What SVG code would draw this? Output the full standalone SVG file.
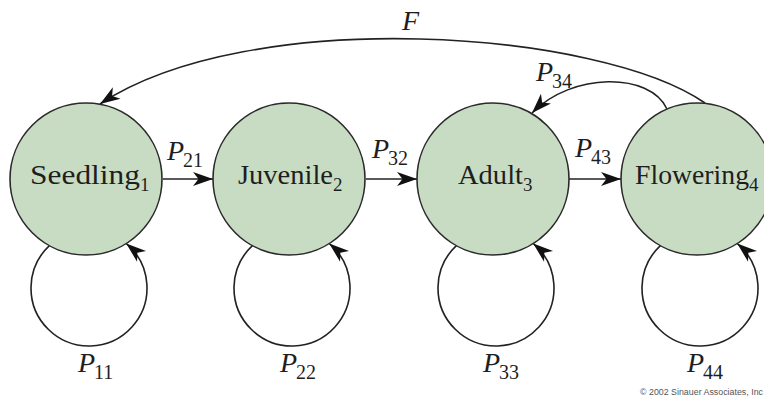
<svg xmlns="http://www.w3.org/2000/svg" width="764" height="400" viewBox="0 0 764 400">
  <style>
    .node { fill: #c8dcc4; stroke: #2a2a2a; stroke-width: 1.6; }
    .name { font-family: "Liberation Serif", "DejaVu Serif", serif; font-size: 28px; fill: #1e1e1e; }
    .sub { font-size: 19px; }
    .lab { font-family: "Liberation Serif", "DejaVu Serif", serif; font-size: 28px; font-style: italic; fill: #1e1e1e; }
    .labsub { font-style: normal; font-size: 20px; }
    .edge { fill: none; stroke: #222; stroke-width: 1.6; marker-end: url(#arrow); }
    .copy { font-family: "Liberation Sans", Arial, sans-serif; font-size: 8.5px; fill: #555; }
  </style>
  <defs>
    <marker id="arrow" viewBox="-22 -9 24 18" refX="0" refY="0" markerWidth="24" markerHeight="18" markerUnits="userSpaceOnUse" orient="auto">
      <path d="M0,0 L-20,-7 L-14.5,0 L-20,7 Z" fill="#111"/>
    </marker>
  </defs>

  <g id="connectors">
    <path class="edge" d="M163,179 L213,179"/>
    <path class="edge" d="M366,179 L417,179"/>
    <path class="edge" d="M569,179 L621,179"/>
    <path class="edge" d="M705,103 C600,30 250,5 100,104"/>
    <path class="edge" d="M667,109 C650,72 572,72 532,113"/>
    <path class="edge" d="M49.4,245.6 A58,58 0 1 0 126.2,243.5"/>
    <path class="edge" d="M252.4,245.6 A58,58 0 1 0 329.2,243.5"/>
    <path class="edge" d="M456.4,245.6 A58,58 0 1 0 533.2,243.5"/>
    <path class="edge" d="M660.4,245.6 A58,58 0 1 0 737.2,243.5"/>
    <g id="edge-labels">
      <text class="lab" x="167" y="160">P<tspan class="labsub" dx="-1" dy="7">21</tspan></text>
      <text class="lab" x="372" y="158">P<tspan class="labsub" dx="-1" dy="7">32</tspan></text>
      <text class="lab" x="575" y="157">P<tspan class="labsub" dx="-1" dy="7">43</tspan></text>
      <text class="lab" x="536" y="81">P<tspan class="labsub" dx="-1" dy="7">34</tspan></text>
      <text class="lab" x="402" y="30">F</text>
      <text class="lab" x="78" y="372">P<tspan class="labsub" dx="-1" dy="7">11</tspan></text>
      <text class="lab" x="280" y="372">P<tspan class="labsub" dx="-1" dy="7">22</tspan></text>
      <text class="lab" x="483" y="372">P<tspan class="labsub" dx="-1" dy="7">33</tspan></text>
      <text class="lab" x="687" y="372">P<tspan class="labsub" dx="-1" dy="7">44</tspan></text>
    </g>
  </g>

  <g id="seedling">
    <circle class="node" cx="86" cy="179" r="76"/>
    <text class="name" x="30" y="184"><tspan textLength="110" lengthAdjust="spacingAndGlyphs">Seedling</tspan><tspan class="sub" x="140" y="191">1</tspan></text>
  </g>
  <g id="juvenile">
    <circle class="node" cx="289" cy="179" r="76"/>
    <text class="name" x="238" y="184"><tspan textLength="95" lengthAdjust="spacingAndGlyphs">Juvenile</tspan><tspan class="sub" x="333" y="191">2</tspan></text>
  </g>
  <g id="adult">
    <circle class="node" cx="493" cy="179" r="76"/>
    <text class="name" x="458" y="184"><tspan textLength="65" lengthAdjust="spacingAndGlyphs">Adult</tspan><tspan class="sub" x="523" y="191">3</tspan></text>
  </g>
  <g id="flowering">
    <circle class="node" cx="697" cy="179" r="76"/>
    <text class="name" x="635" y="184"><tspan textLength="114" lengthAdjust="spacingAndGlyphs">Flowering</tspan><tspan class="sub" x="749" y="191">4</tspan></text>
  </g>

  <text class="copy" x="640" y="395" textLength="123" lengthAdjust="spacingAndGlyphs">© 2002 Sinauer Associates, Inc</text>
</svg>
